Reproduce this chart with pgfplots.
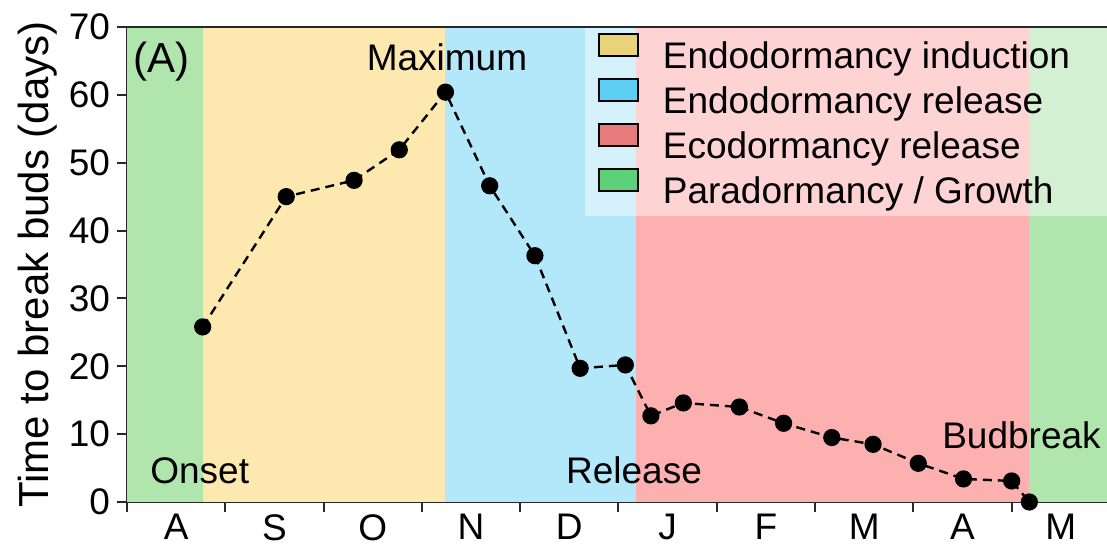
\documentclass[border=0pt]{standalone}
\usepackage{pgfplots}
\pgfplotsset{compat=1.18}
\usepackage{fontspec}
\setmainfont{Liberation Sans}
\definecolor{bgreen}{RGB}{176,230,174}
\definecolor{byellow}{RGB}{253,232,176}
\definecolor{bblue}{RGB}{179,232,250}
\definecolor{bred}{RGB}{252,176,176}
\definecolor{lyellow}{RGB}{232,210,122}
\definecolor{lblue}{RGB}{93,207,245}
\definecolor{lred}{RGB}{231,122,122}
\definecolor{lgreen}{RGB}{93,208,122}
\definecolor{axgray}{RGB}{40,40,40}
\begin{document}
\begin{tikzpicture}[font=\fontsize{18.5}{22.25}\selectfont]
\begin{axis}[
  scale only axis, width=490pt, height=237.5pt,
  xmin=0, xmax=9.97, ymin=0, ymax=70,
  axis lines*=left,
  axis line style={-, line width=1pt, color=axgray},
  tick style={line width=1pt, color=axgray},
  tick align=center, major tick length=10pt,
  xtick={0,...,9}, xticklabels={},
  extra x ticks={0.5,1.5,2.5,3.5,4.5,5.5,6.5,7.5,8.5,9.5},
  extra x tick labels={A,S,O,N,D,J,F,M,A,M},
  extra x tick style={major tick length=0pt, xticklabel style={yshift=-5pt, inner sep=1pt}},
  ytick={0,10,20,30,40,50,60,70},
  /pgf/number format/assume math mode=true,
  ylabel={Time to break buds (days)},
  every axis y label/.style={at={(axis description cs:0,0.5)}, xshift=-44.5pt, rotate=90, anchor=center, font=\fontsize{21}{25}\selectfont},
  clip mode=individual,
  legend style={at={(axis cs:4.79,70)}, anchor=north west, draw=none, fill=none,
    inner sep=0pt, yshift=-3pt, row sep=1pt,
    nodes={inner sep=0pt, text height=14pt, text depth=4pt},
    /tikz/every odd column/.append style={column sep=12pt}},
  legend cell align=left,
  legend image code/.code={\draw[#1, line width=0.8pt] (0pt,1.1pt) rectangle (19.5pt,12.1pt);},
]
\addplot[fill=bgreen, draw=none, forget plot] coordinates {(0,0) (0,70) (0.77,70) (0.77,0)} -- cycle;
\addplot[fill=byellow, draw=none, forget plot] coordinates {(0.77,0) (0.77,70) (3.24,70) (3.24,0)} -- cycle;
\addplot[fill=bblue, draw=none, forget plot] coordinates {(3.24,0) (3.24,70) (5.18,70) (5.18,0)} -- cycle;
\addplot[fill=bred, draw=none, forget plot] coordinates {(5.18,0) (5.18,70) (9.18,70) (9.18,0)} -- cycle;
\addplot[fill=bgreen, draw=none, forget plot] coordinates {(9.18,0) (9.18,70) (9.97,70) (9.97,0)} -- cycle;
\fill[white, fill opacity=0.45] (axis cs:4.66,42.1) rectangle (axis cs:9.97,70);
\addplot[black, line width=1.2pt, dash pattern=on 4.5pt off 3pt, mark=*, mark size=3.7pt,
  mark options={solid, fill=black}, forget plot] coordinates {
(0.77,25.8) (1.62,45.0) (2.31,47.4) (2.77,51.9) (3.24,60.4) (3.69,46.6) (4.15,36.3)
(4.61,19.7) (5.07,20.2) (5.33,12.7) (5.66,14.6) (6.23,14.0) (6.68,11.6) (7.17,9.5)
(7.59,8.5) (8.05,5.7) (8.51,3.4) (9.00,3.1) (9.18,0)};
\addlegendimage{fill=lyellow, draw=black}
\addlegendentry{Endodormancy induction}
\addlegendimage{fill=lblue, draw=black}
\addlegendentry{Endodormancy release}
\addlegendimage{fill=lred, draw=black}
\addlegendentry{Ecodormancy release}
\addlegendimage{fill=lgreen, draw=black}
\addlegendentry{Paradormancy / Growth}
\node[font=\fontsize{21}{25}\selectfont] at (axis cs:0.35,64.9) {(A)};
\node at (axis cs:3.255,65.5) {Maximum};
\node at (axis cs:0.74,4.64) {Onset};
\node at (axis cs:5.158,4.64) {Release};
\node at (axis cs:9.10,9.87) {Budbreak};
\coordinate (tl) at (rel axis cs:0,1);
\coordinate (tr) at (rel axis cs:1,1);
\coordinate (ll) at (rel axis cs:0,0);
\end{axis}
\draw[line width=1pt, axgray] (tl) -- (tr);
\pgfresetboundingbox
\path ([shift={(-63.5pt,-24pt)}]ll) rectangle ([shift={(0pt,13.5pt)}]tr);
\end{tikzpicture}
\end{document}
